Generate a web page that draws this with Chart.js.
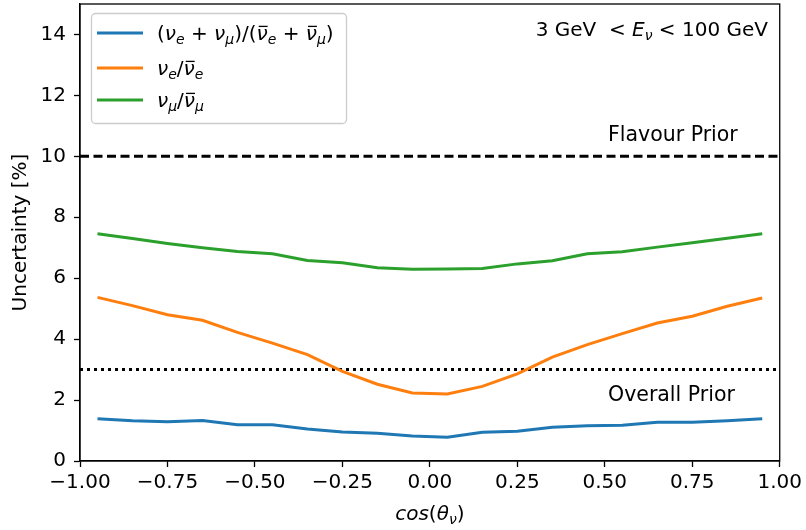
<!DOCTYPE html>
<html>
<head>
<meta charset="utf-8">
<script src="https://cdn.jsdelivr.net/npm/chart.js@4"></script>
<style>
  body { margin: 0; background: #fff; }
  canvas { display: block; }
</style>
</head>
<body>
<canvas id="chart" width="806" height="530"></canvas>
<script>
// data
const cosTheta = [-0.95, -0.85, -0.75, -0.65, -0.55, -0.45, -0.35, -0.25, -0.15, -0.05,
                  0.05, 0.15, 0.25, 0.35, 0.45, 0.55, 0.65, 0.75, 0.85, 0.95];
const ratioAll = [1.39, 1.32, 1.29, 1.33, 1.19, 1.19, 1.05, 0.95, 0.91, 0.82,
                  0.78, 0.94, 0.98, 1.11, 1.16, 1.17, 1.27, 1.27, 1.32, 1.39];
const ratioE   = [5.37, 5.10, 4.80, 4.62, 4.22, 3.87, 3.49, 2.94, 2.52, 2.23,
                  2.20, 2.45, 2.86, 3.41, 3.82, 4.18, 4.53, 4.75, 5.08, 5.35];
const ratioMu  = [7.46, 7.30, 7.14, 7.00, 6.88, 6.80, 6.58, 6.51, 6.34, 6.29,
                  6.30, 6.32, 6.47, 6.57, 6.80, 6.87, 7.02, 7.16, 7.31, 7.46];
const flavourPrior = 10;
const overallPrior = 3;
const xRange = [-1, 1];
const yTicks = [0, 2, 4, 6, 8, 10, 12, 14];

const FONT = "'DejaVu Sans', sans-serif";
const colors = { all: '#1f77b4', e: '#ff7f0e', mu: '#2ca02c' };

const toPts = ys => cosTheta.map((x, i) => ({ x: x, y: ys[i] }));
const flat = v => xRange.map(x => ({ x: x, y: v }));

// mathtext-ish drawing: parts are [text, flags], flags: i=italic, s=subscript, b=bar
function mathWidth(ctx, parts, size) {
    let w = 0;
    parts.forEach(([t, f]) => {
        const fs = f.includes('s') ? size * 0.7 : size;
        ctx.font = (f.includes('i') ? 'italic ' : '') + fs + 'px ' + FONT;
        w += ctx.measureText(t).width;
    });
    return w;
}
function drawMath(ctx, parts, x, y, align, size) {
    const w = mathWidth(ctx, parts, size);
    let cx = align === 'right' ? x - w : align === 'center' ? x - w / 2 : x;
    ctx.save();
    ctx.fillStyle = '#000';
    ctx.strokeStyle = '#000';
    ctx.textBaseline = 'alphabetic';
    ctx.textAlign = 'left';
    parts.forEach(([t, f]) => {
        const sub = f.includes('s');
        const fs = sub ? size * 0.7 : size;
        ctx.font = (f.includes('i') ? 'italic ' : '') + fs + 'px ' + FONT;
        const yy = sub ? y + size * 0.2 : y;
        ctx.fillText(t, cx, yy);
        const tw = ctx.measureText(t).width;
        if (f.includes('b')) {
            ctx.lineWidth = 1.3;
            ctx.beginPath();
            ctx.moveTo(cx + tw * 0.2, yy - size * 0.68);
            ctx.lineTo(cx + tw * 1.0, yy - size * 0.68);
            ctx.stroke();
        }
        cx += tw;
    });
    ctx.restore();
}

const legendItems = [
    { color: colors.all, parts: [['(', ''], ['ν', 'i'], ['e', 'is'], [' + ', ''], ['ν', 'i'], ['μ', 'is'],
                                 [')/(', ''], ['ν', 'ib'], ['e', 'is'], [' + ', ''], ['ν', 'ib'], ['μ', 'is'], [')', '']] },
    { color: colors.e, parts: [['ν', 'i'], ['e', 'is'], ['/', ''], ['ν', 'ib'], ['e', 'is']] },
    { color: colors.mu, parts: [['ν', 'i'], ['μ', 'is'], ['/', ''], ['ν', 'ib'], ['μ', 'is']] }
];

const decorations = {
    id: 'decorations',
    afterDraw(chart) {
        const ctx = chart.ctx;
        const a = chart.chartArea;
        const ys = chart.scales.y;

        // top and right spines
        ctx.save();
        ctx.strokeStyle = '#000';
        ctx.lineWidth = 1.3;
        ctx.strokeRect(a.left, a.top, a.right - a.left, a.bottom - a.top);
        ctx.restore();

        // prior labels
        ctx.save();
        ctx.font = '20.5px ' + FONT;
        ctx.fillStyle = '#000';
        ctx.textBaseline = 'alphabetic';
        ctx.fillText('Flavour Prior', 608, ys.getPixelForValue(flavourPrior) - 15);
        ctx.fillText('Overall Prior', 608, ys.getPixelForValue(overallPrior) + 31);
        ctx.restore();

        // energy range
        drawMath(ctx, [['3 GeV  < ', ''], ['E', 'i'], ['ν', 'is'], [' < 100 GeV', '']], 768, 36, 'right', 20);

        // x title
        drawMath(ctx, [['cos', 'i'], ['(', ''], ['θ', 'i'], ['ν', 'is'], [')', '']], (a.left + a.right) / 2, 520, 'center', 20);

        // legend box
        ctx.save();
        ctx.fillStyle = 'rgba(255,255,255,0.8)';
        ctx.strokeStyle = '#cccccc';
        ctx.lineWidth = 1.3;
        ctx.beginPath();
        ctx.roundRect(91.5, 13.5, 255, 110, 4);
        ctx.fill();
        ctx.stroke();
        ctx.restore();
        const rowY = [33, 68, 100];
        legendItems.forEach((it, i) => {
            ctx.save();
            ctx.strokeStyle = it.color;
            ctx.lineWidth = 3;
            ctx.beginPath();
            ctx.moveTo(97, rowY[i]);
            ctx.lineTo(143, rowY[i]);
            ctx.stroke();
            ctx.restore();
            drawMath(ctx, it.parts, 157, rowY[i] + 7, 'left', 20);
        });
    }
};

const fmt = v => (v < 0 ? '\u2212' : '') + Math.abs(v).toFixed(2);

new Chart(document.getElementById('chart'), {
    type: 'line',
    data: {
        datasets: [
            { data: toPts(ratioAll), borderColor: colors.all, borderWidth: 3, pointRadius: 0, tension: 0 },
            { data: toPts(ratioE), borderColor: colors.e, borderWidth: 3, pointRadius: 0, tension: 0 },
            { data: toPts(ratioMu), borderColor: colors.mu, borderWidth: 3, pointRadius: 0, tension: 0 },
            { data: flat(flavourPrior), borderColor: '#000', borderWidth: 3, borderDash: [9, 4.5], pointRadius: 0 },
            { data: flat(overallPrior), borderColor: '#000', borderWidth: 3, borderDash: [3, 4], pointRadius: 0 }
        ]
    },
    options: {
        responsive: false,
        animation: false,
        layout: { padding: { left: 0, top: 4, right: 26, bottom: 0 } },
        plugins: { legend: { display: false }, tooltip: { enabled: false } },
        scales: {
            x: {
                type: 'linear',
                min: xRange[0],
                max: xRange[1],
                afterFit: s => { s.height = 69; },
                ticks: {
                    stepSize: 0.25,
                    color: '#000',
                    font: { family: FONT, size: 20 },
                    padding: 4,
                    maxRotation: 0,
                    callback: v => fmt(v)
                },
                grid: { drawOnChartArea: false, color: '#000', tickLength: 6, tickWidth: 1.3 },
                border: { color: '#000', width: 1.3 }
            },
            y: {
                min: 0,
                max: 15,
                afterFit: s => { s.width = 80; s.paddingTop = 0; s.paddingBottom = 0; },
                afterBuildTicks: s => { s.ticks = yTicks.map(v => ({ value: v })); },
                ticks: {
                    color: '#000',
                    font: { family: FONT, size: 20 },
                    padding: 8,
                    callback: v => String(v)
                },
                title: {
                    display: true,
                    text: 'Uncertainty [%]',
                    color: '#000',
                    font: { family: FONT, size: 20 },
                    padding: { top: 9, bottom: 0 }
                },
                grid: { drawOnChartArea: false, color: '#000', tickLength: 6, tickWidth: 1.3 },
                border: { color: '#000', width: 1.3 }
            }
        }
    },
    plugins: [decorations]
});
</script>
</body>
</html>
